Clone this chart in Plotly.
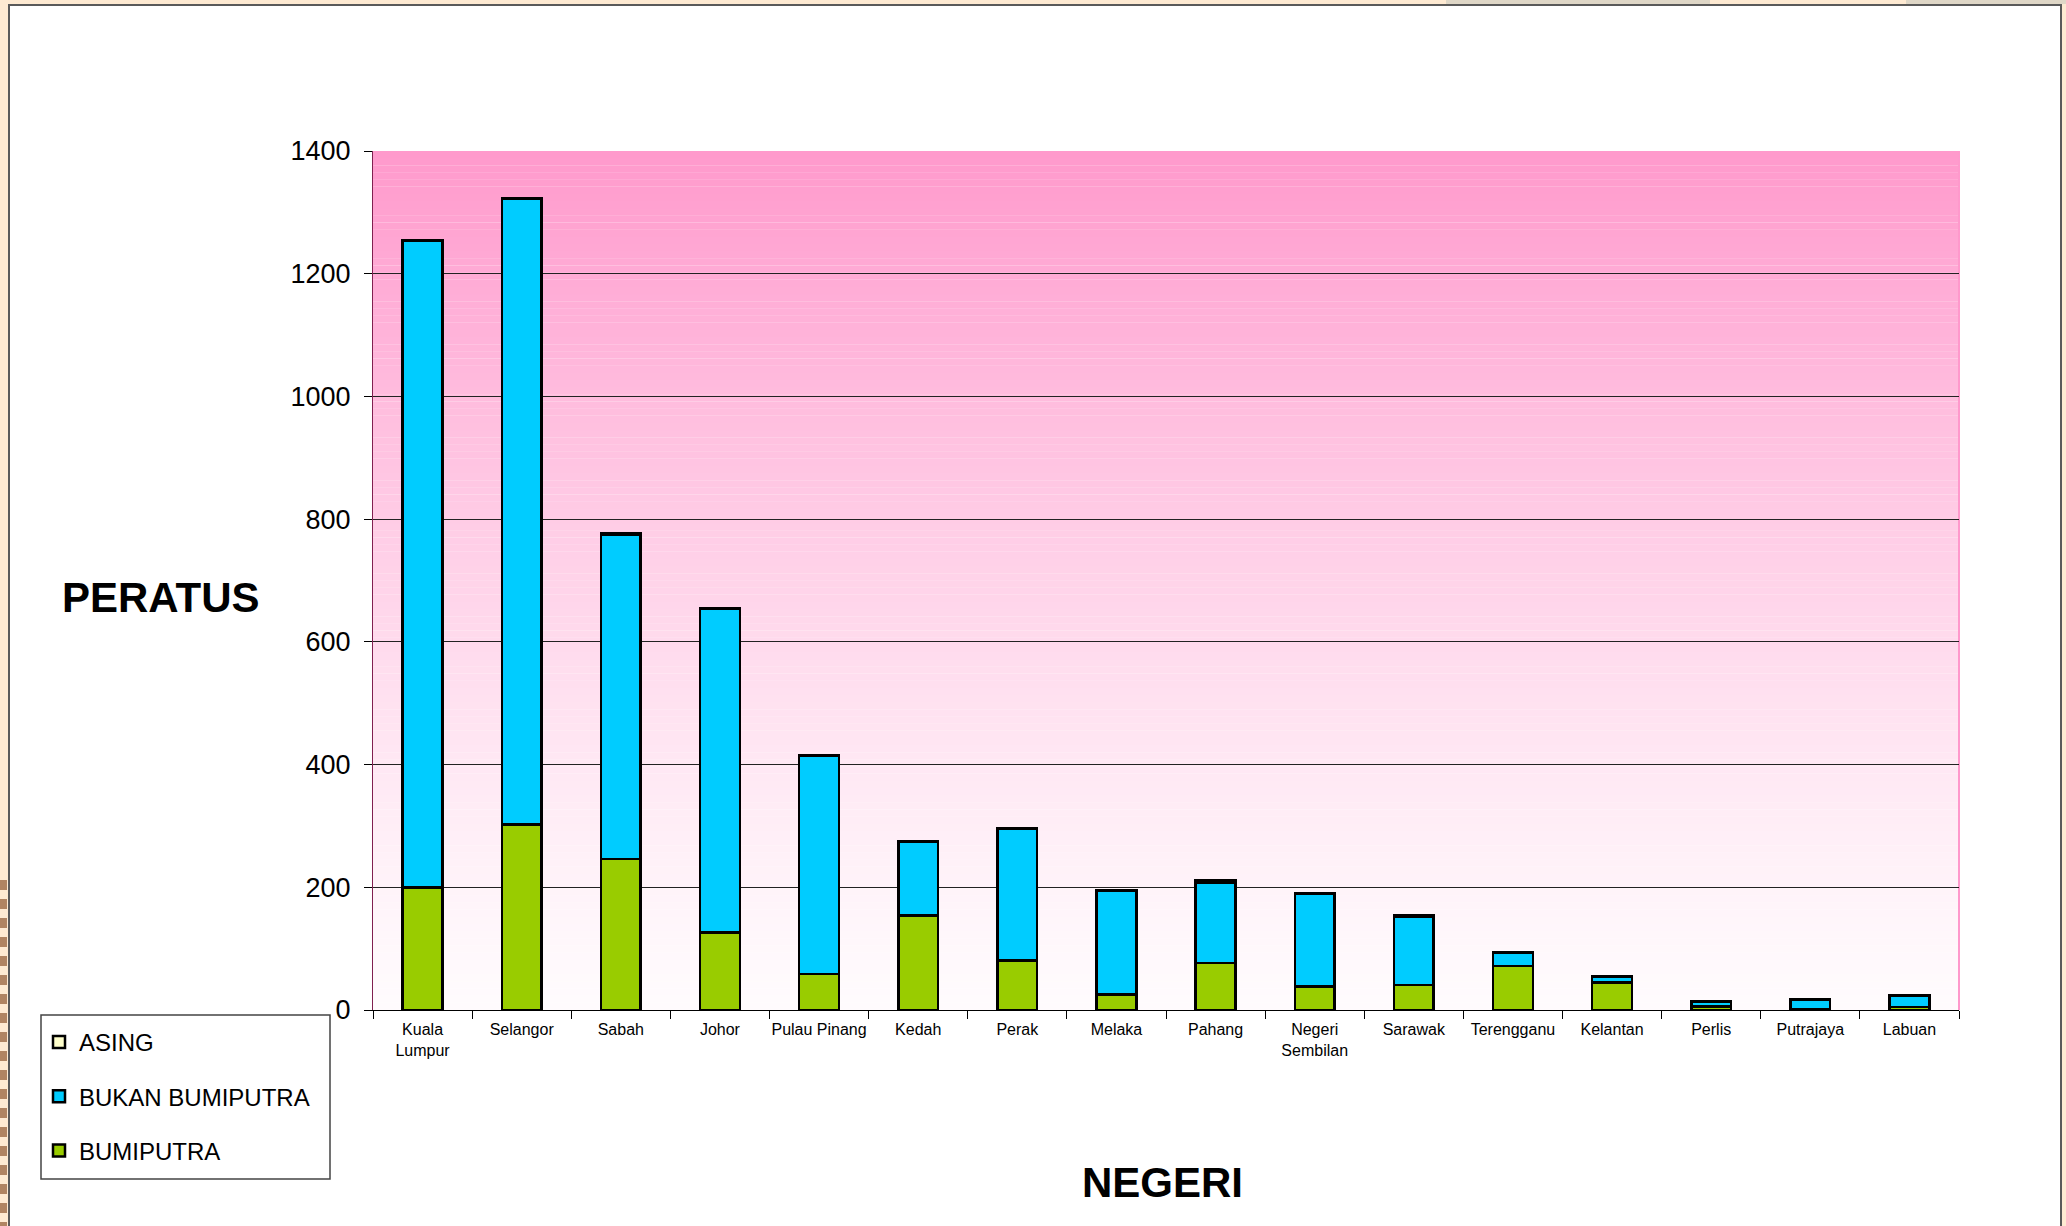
import plotly.graph_objects as go

# ---------------- data ----------------
negeri = ["Kuala<br>Lumpur", "Selangor", "Sabah", "Johor", "Pulau Pinang", "Kedah",
          "Perak", "Melaka", "Pahang", "Negeri<br>Sembilan", "Sarawak", "Terengganu",
          "Kelantan", "Perlis", "Putrajaya", "Labuan"]
bumiputra = [200, 302, 246, 126, 59, 154, 81, 25, 77, 38, 41, 72, 45, 6, 2, 5]
bukan_bumiputra = [1053, 1020, 528, 528, 356, 120, 215, 169, 131, 152, 111, 21, 10, 8, 15, 18]
asing = [2, 1, 3, 1, 1, 0.5, 0.5, 0.5, 3, 0.5, 2, 0.5, 0.5, 0.5, 0.5, 0.5]
y_ticks = [0, 200, 400, 600, 800, 1000, 1200, 1400]

# ---------------- geometry helpers ----------------
W, H = 2066, 1226
L, R, T, B = 373, 107, 151, 216
PW, PH = W - L - R, H - T - B


def fx(px):
    return (px - L) / PW


def fy(py):
    return (H - B - py) / PH


FONT = "Arial, Liberation Sans, sans-serif"
BORDER = dict(color="black", width=2.5)

fig = go.Figure()
fig.add_trace(go.Bar(name="BUMIPUTRA", x=negeri, y=bumiputra, legendgroup="c", legendrank=3,
                     marker=dict(color="#99CC00", line=BORDER)))
fig.add_trace(go.Bar(name="BUKAN BUMIPUTRA", x=negeri, y=bukan_bumiputra, legendgroup="b",
                     legendrank=2, marker=dict(color="#00CCFF", line=BORDER)))
fig.add_trace(go.Bar(name="ASING", x=negeri, y=asing, legendgroup="a", legendrank=1,
                     marker=dict(color="#FFFFCC", line=BORDER)))

shapes = []
# slide background frame
shapes.append(dict(type="rect", xref="paper", yref="paper", layer="below",
                   x0=fx(9), x1=fx(2061), y0=fy(5), y1=fy(1240),
                   fillcolor="white", line=dict(color="#5a5a5a", width=2)))
# top strip grey patches
for a, b in [(1446, 1710), (1906, 2066)]:
    shapes.append(dict(type="rect", xref="paper", yref="paper", layer="below",
                       x0=fx(a), x1=fx(b), y0=fy(0), y1=fy(4),
                       fillcolor="#DFD7C7", line=dict(width=0)))
# left decorative stripes
yy = 880
while yy < H:
    shapes.append(dict(type="rect", xref="paper", yref="paper", layer="below",
                       x0=fx(0), x1=fx(7), y0=fy(yy), y1=fy(yy + 10),
                       fillcolor="#B08462", line=dict(width=0)))
    yy += 19

# plot area gradient (pink top -> white bottom)
N = 120
top = (255, 153, 204)
bot = (255, 251, 253)
for i in range(N):
    f = (i + 0.5) / N
    t = f ** 1.3
    c = tuple(int(round(bot[k] + (top[k] - bot[k]) * t)) for k in range(3))
    shapes.append(dict(type="rect", xref="paper", yref="paper", layer="below",
                       x0=0, x1=1, y0=i / N, y1=min(1, (i + 1.02) / N),
                       fillcolor="rgb(%d,%d,%d)" % c, line=dict(width=0)))
# right pink edge
shapes.append(dict(type="line", xref="paper", yref="paper", layer="below",
                   x0=1, x1=1, y0=0, y1=1, line=dict(color="#FF99CC", width=2)))
# legend box
shapes.append(dict(type="rect", xref="paper", yref="paper", layer="above",
                   x0=fx(41), x1=fx(330), y0=fy(1015), y1=fy(1179),
                   line=dict(color="#444444", width=1.5), fillcolor="rgba(0,0,0,0)"))

fig.update_layout(
    width=W, height=H, autosize=False,
    margin=dict(l=L, r=R, t=T, b=B, pad=0),
    paper_bgcolor="#FEEAD2",
    plot_bgcolor="rgba(0,0,0,0)",
    barmode="stack",
    bargap=0.6,
    font=dict(family=FONT, color="black"),
    shapes=shapes,
    showlegend=True,
    legend=dict(
        x=fx(39), y=fy(1020), xanchor="left", yanchor="top",
        traceorder="grouped", tracegroupgap=20,
        font=dict(size=24, family=FONT, color="black"),
        bgcolor="rgba(0,0,0,0)", borderwidth=0,
    ),
    xaxis=dict(
        type="category", showgrid=False, showline=True, linecolor="black", linewidth=1,
        ticks="outside", ticklen=8, tickcolor="black", tickson="boundaries", tickangle=0,
        tickfont=dict(size=16, family=FONT, color="black"), zeroline=False,
        ticklabelstandoff=5,
    ),
    yaxis=dict(
        range=[0, 1400], tickvals=y_ticks, ticks="outside", ticklen=8, tickcolor="black",
        showgrid=True, gridcolor="#222222", gridwidth=1, zeroline=False,
        showline=True, linecolor="#802050", linewidth=1,
        tickfont=dict(size=27, family=FONT, color="black"), ticklabelstandoff=8,
    ),
    annotations=[
        dict(text="<b>PERATUS</b>", xref="paper", yref="paper", x=fx(161), y=fy(597),
             xanchor="center", yanchor="middle", showarrow=False,
             font=dict(size=42, family=FONT, color="black")),
        dict(text="<b>NEGERI</b>", xref="paper", yref="paper", x=fx(1162), y=fy(1182),
             xanchor="center", yanchor="middle", showarrow=False,
             font=dict(size=42, family=FONT, color="black")),
    ],
)

fig.write_html("out.html", config={"displayModeBar": False},
               post_script="document.body.style.margin='0';document.body.style.overflow='hidden';")
